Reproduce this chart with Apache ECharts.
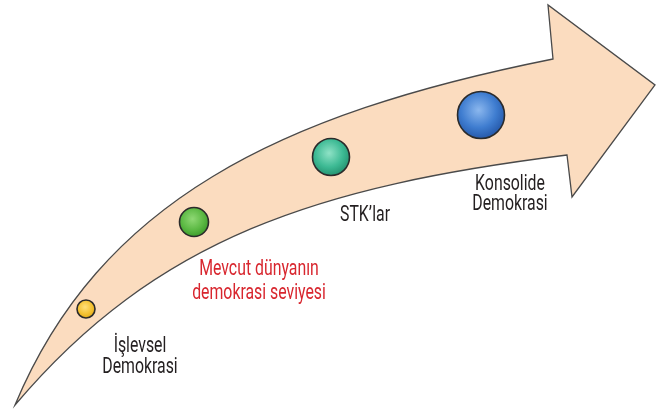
<!DOCTYPE html>
<html><head><meta charset="utf-8">
<script src="https://cdn.jsdelivr.net/npm/echarts@6/dist/echarts.min.js"></script>
<style>html,body{margin:0;padding:0;background:#fff}#c{width:668px;height:412px}</style>
</head><body><div id="c"></div>
<script>
// Arrow outline as cubic Bezier edges (data coordinates, y grows downward)
const upperCurve = [[15, 405], [100, 202], [278, 114], [553, 59]];
const arrowHead = [[548, 5], [655, 85], [572, 197], [567, 155]];
const lowerCurve = [[567, 155], [319, 186], [157, 237], [15, 405]];

// Stages (balls)
const stageNames = ['İşlevsel Demokrasi', 'Mevcut dünyanın demokrasi seviyesi', 'STK’lar', 'Konsolide Demokrasi'];
const stageX = [86, 194, 331, 481];
const stageY = [309, 222, 157, 115];
const stageSize = [18, 29, 37, 47];
const stageColors = [['#ffe07a', '#f4c232', '#e0a818'], ['#8fd874', '#5cb944', '#3a9a2a'], ['#8fe2c6', '#3dba94', '#23916f'], ['#8bb7ee', '#3f7dd0', '#2457a8']];

// Labels
const labelTexts = ['İşlevsel\nDemokrasi', 'Mevcut dünyanın\ndemokrasi seviyesi', 'STK’lar', 'Konsolide\nDemokrasi'];
const labelX = [140, 259, 365, 510];
const labelY = [357, 281, 215, 194];
const labelColors = ['#231f20', '#d8262e', '#231f20', '#231f20'];

const chart = echarts.init(document.getElementById('c'));
const lineHeights = [21, 24, 21, 20];

chart.setOption({
  animation: false,
  grid: { left: 0, right: 0, top: 0, bottom: 0 },
  xAxis: { type: 'value', min: 0, max: 668, show: false },
  yAxis: { type: 'value', min: 0, max: 412, inverse: true, show: false },
  series: [
    {
      type: 'custom',
      z: 1,
      silent: true,
      data: [[0, 0]],
      renderItem: function (params, api) {
        const u = upperCurve.map(p => api.coord(p));
        const h = arrowHead.map(p => api.coord(p));
        const l = lowerCurve.map(p => api.coord(p));
        let d = 'M' + u[0].join(',') + ' C' + u[1].join(',') + ' ' + u[2].join(',') + ' ' + u[3].join(',');
        h.forEach(p => { d += ' L' + p.join(','); });
        d += ' C' + l[1].join(',') + ' ' + l[2].join(',') + ' ' + l[3].join(',') + ' Z';
        return {
          type: 'path',
          shape: { pathData: d },
          style: { fill: '#fbdcbf', stroke: '#4a4a4a', lineWidth: 1.3, lineJoin: 'miter' }
        };
      }
    },
    {
      type: 'scatter',
      z: 3,
      symbol: 'circle',
      silent: true,
      data: stageX.map((x, i) => ({
        name: stageNames[i],
        value: [x, stageY[i]],
        symbolSize: stageSize[i],
        itemStyle: {
          opacity: 1,
          color: { type: 'radial', x: 0.45, y: 0.4, r: 0.6, colorStops: [
            { offset: 0, color: stageColors[i][0] },
            { offset: 0.6, color: stageColors[i][1] },
            { offset: 1, color: stageColors[i][2] }] },
          borderColor: '#2b2b2b', borderWidth: 1.6
        }
      }))
    },
    {
      type: 'custom',
      z: 4,
      silent: true,
      data: labelX.map((x, i) => [x, labelY[i], i]),
      renderItem: function (params, api) {
        const i = api.value(2);
        const p = api.coord([api.value(0), api.value(1)]);
        return {
          type: 'text',
          x: p[0], y: p[1],
          scaleX: 0.72,
          style: {
            text: labelTexts[i], x: 0, y: 0,
            fill: labelColors[i], fontFamily: 'Roboto', fontSize: 22, lineHeight: lineHeights[i],
            align: 'center', verticalAlign: 'middle'
          }
        };
      }
    }
  ]
});
</script></body></html>
